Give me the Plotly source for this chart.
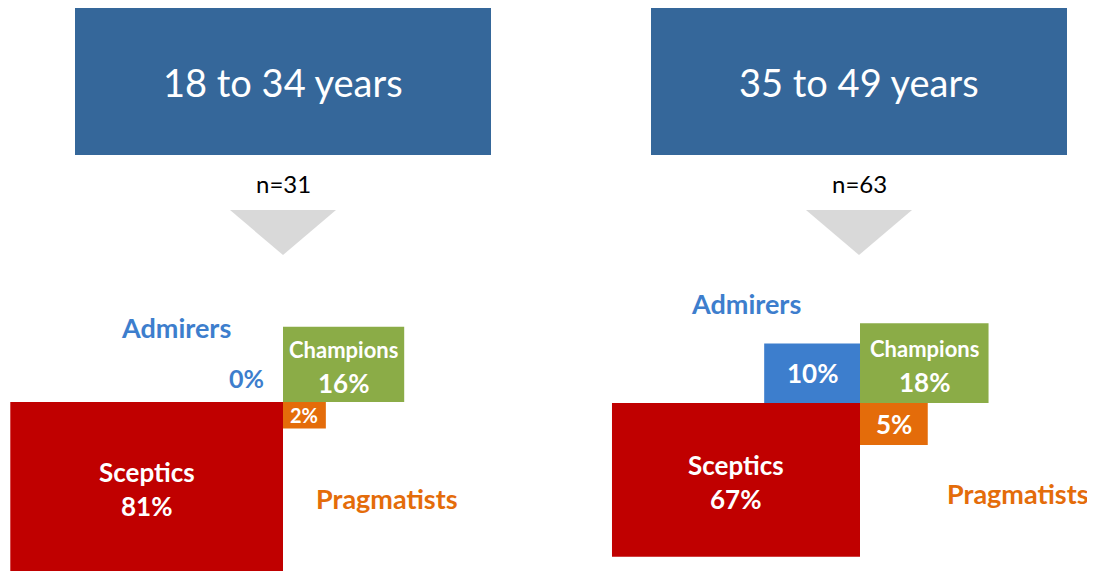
import numpy as np
import plotly.graph_objects as go

# data
age_groups = ["18 to 34 years", "35 to 49 years"]
sample_sizes = [31, 63]
segments = ["Admirers", "Champions", "Sceptics", "Pragmatists"]
shares = [[0, 16, 81, 2],
          [10, 18, 67, 5]]

# layout constants (pixel coordinates of the 1095x573 window)
W, H = 1095, 573
PAD = 8           # default page margin around the plot div
FONT = "Lato"
colors = {"Admirers": "#3D7ECD", "Champions": "#8BAC47", "Sceptics": "#C00000", "Pragmatists": "#E46C0A"}
header_color = "#35679A"
centers = [(283, 402), (860, 403)]
scale = 30.3      # px per sqrt(percent)
aspect = 0.62     # height / width of each block
header_boxes = [(75, 491, 8, 155), (651, 1067, 8, 155)]
outer_labels = [{"Admirers": (176, 327), "Pragmatists": (387, 498)},
                {"Admirers": (746, 303), "Pragmatists": (1018, 493)}]
zero_label = (246, 378)

fig = go.Figure()
shapes = []
annotations = []


def add_text(x, y, text, size, color, bold=True):
    if bold:
        text = f"<b>{text}</b>"
    annotations.append(dict(x=x, y=y, xref="x", yref="y", text=text, showarrow=False,
                            font=dict(family=FONT, size=size, color=color),
                            xanchor="center", yanchor="middle"))


for i, (group, n, vals) in enumerate(zip(age_groups, sample_sizes, shares)):
    x0, x1, y0, y1 = header_boxes[i]
    shapes.append(dict(type="rect", xref="x", yref="y", x0=x0, x1=x1, y0=y0, y1=y1,
                       fillcolor=header_color, line_width=0, layer="below"))
    hx = (x0 + x1) / 2
    add_text(hx, (y0 + y1) / 2, group, 38, "white", bold=False)
    add_text(hx, 183, f"n={n}", 24, "black", bold=False)
    tx = hx
    shapes.append(dict(type="path", xref="x", yref="y",
                       path=f"M {tx - 53},210 L {tx + 53},210 L {tx},255 Z",
                       fillcolor="#D9D9D9", line_width=0))

    cx, cy = centers[i]
    for seg, v in zip(segments, vals):
        w = scale * np.sqrt(v)
        h = aspect * w
        if seg == "Admirers":
            bx0, bx1, by0, by1 = cx - w, cx, cy - h, cy
        elif seg == "Champions":
            bx0, bx1, by0, by1 = cx, cx + w, cy - h, cy
        elif seg == "Sceptics":
            bx0, bx1, by0, by1 = cx - w, cx, cy, cy + h
        else:
            bx0, bx1, by0, by1 = cx, cx + w, cy, cy + h
        if v > 0:
            shapes.append(dict(type="rect", xref="x", yref="y", x0=bx0, x1=bx1, y0=by0, y1=by1,
                               fillcolor=colors[seg], line_width=0))
        mx, my = (bx0 + bx1) / 2, (by0 + by1) / 2
        if seg == "Champions":
            add_text(mx, my - 15, seg, 22, "white")
            add_text(mx, my + 19, f"{v}%", 26, "white")
        elif seg == "Sceptics":
            add_text(mx, my - 15, seg, 26, "white")
            add_text(mx, my + 19, f"{v}%", 26, "white")
        else:
            lx, ly = outer_labels[i][seg]
            add_text(lx, ly, seg, 27, colors[seg])
            if v == 0:
                add_text(zero_label[0], zero_label[1], f"{v}%", 25, colors[seg])
            else:
                add_text(mx, my, f"{v}%", 26 if v >= 5 else 20, "white")

fig.update_layout(
    width=W - PAD, height=H - PAD, margin=dict(l=0, r=0, t=0, b=0),
    paper_bgcolor="white", plot_bgcolor="white",
    xaxis=dict(range=[PAD, W], visible=False, fixedrange=True),
    yaxis=dict(range=[H, PAD], visible=False, fixedrange=True),
    shapes=shapes, annotations=annotations, showlegend=False,
)
fig.write_html("out.html")
